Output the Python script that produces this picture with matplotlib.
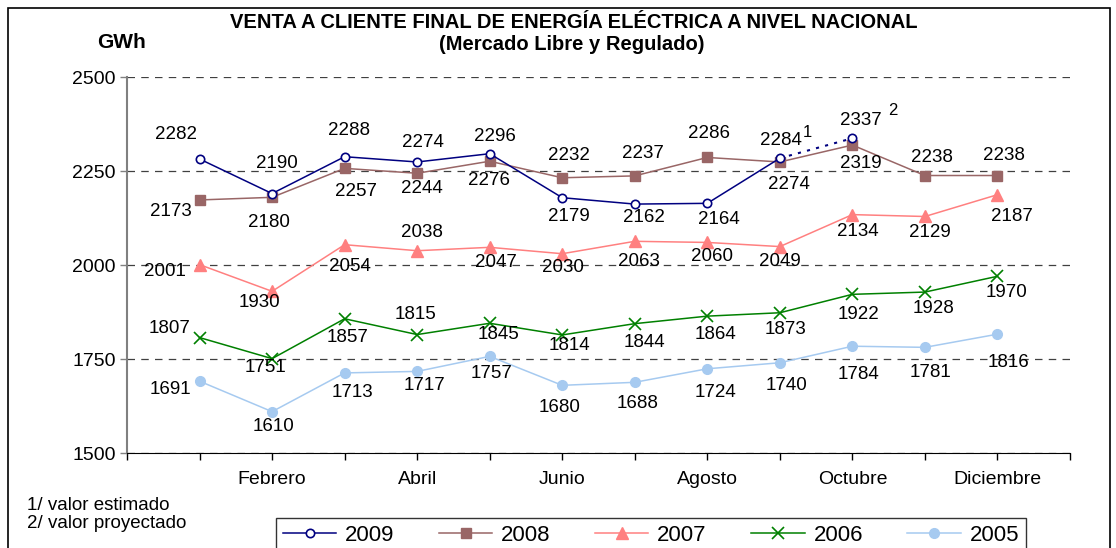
import matplotlib.pyplot as plt
from matplotlib.patches import Rectangle

plt.rcParams['font.family'] = ['Liberation Sans', 'DejaVu Sans']

meses = ['Enero', 'Febrero', 'Marzo', 'Abril', 'Mayo', 'Junio', 'Julio',
         'Agosto', 'Septiembre', 'Octubre', 'Noviembre', 'Diciembre']

v2009 = [2282, 2190, 2288, 2274, 2296, 2179, 2162, 2164, 2284, 2337]
v2008 = [2173, 2180, 2257, 2244, 2276, 2232, 2237, 2286, 2274, 2319, 2238, 2238]
v2007 = [2001, 1930, 2054, 2038, 2047, 2030, 2063, 2060, 2049, 2134, 2129, 2187]
v2006 = [1807, 1751, 1857, 1815, 1845, 1814, 1844, 1864, 1873, 1922, 1928, 1970]
v2005 = [1691, 1610, 1713, 1717, 1757, 1680, 1688, 1724, 1740, 1784, 1781, 1816]

# posiciones de las etiquetas (pixeles respecto al punto)
off2009 = [(-24, 24), (5, 30), (4, 26), (6, 19), (5, 17), (7, -19), (9, -13),
           (12, -16), (1, 18), (8, 18)]
off2008 = [(-29, -12), (-3, -25), (11, -23), (5, -15), (-1, -19), (7, 22),
           (8, 22), (2, 24), (9, -23), (8, -18), (7, 18), (6, 20)]
off2007 = [(-35, -7), (-13, -11), (5, -22), (5, 18), (6, -15), (1, -14),
           (4, -20), (5, -14), (0, -15), (5, -17), (5, -16), (14, -22)]
off2006 = [(-30, 9), (-7, -9), (3, -19), (-2, 20), (9, -11), (7, -11),
           (10, -19), (8, -18), (6, -17), (6, -20), (9, -16), (9, -16)]
off2005 = [(-29, -8), (1, -15), (8, -20), (7, -14), (2, -17), (-3, -22),
           (3, -21), (8, -24), (7, -23), (6, -28), (6, -25), (11, -28)]

W, H = 1116, 548
fig = plt.figure(figsize=(W / 100, H / 100), dpi=100)
ax = fig.add_axes([127 / W, 1 - 453 / H, (1070 - 127) / W, (453 - 77) / H])

x = list(range(1, 13))
c09, c08, c07, c06, c05 = '#000080', '#996666', '#FF8080', '#008000', '#A6CAF0'

ax.plot(x[:9], v2009[:9], color=c09, lw=1.1, zorder=6)
ax.plot(x[8:10], v2009[8:10], color=c09, lw=1.5, ls=(0, (1.5, 3)), zorder=6)
ax.plot(x[:10], v2009, ls='none', marker='o', ms=6, mfc='white', mec=c09,
        mew=1.2, zorder=7)
h09, = ax.plot([], [], color=c09, lw=1.1, marker='o', ms=6, mfc='white',
               mec=c09, mew=1.2, label='2009')
h08, = ax.plot(x, v2008, color=c08, lw=1.1, marker='s', ms=7, label='2008', zorder=5)
h07, = ax.plot(x, v2007, color=c07, lw=1.1, marker='^', ms=8, label='2007', zorder=4)
h06, = ax.plot(x, v2006, color=c06, lw=1.1, marker='x', ms=8, mew=1.2,
               label='2006', zorder=4)
h05, = ax.plot(x, v2005, color=c05, lw=1.1, marker='o', ms=7, label='2005', zorder=4)

for vals, offs in [(v2009, off2009), (v2008, off2008), (v2007, off2007),
                   (v2006, off2006), (v2005, off2005)]:
    for i, (v, (dx, dy)) in enumerate(zip(vals, offs)):
        ax.annotate(str(v), (x[i], v), xytext=(dx, dy), textcoords='offset pixels',
                    ha='center', va='center', fontsize=13.5, zorder=8)

ax.annotate('1', (x[8], v2009[8]), xytext=(28, 26), textcoords='offset pixels',
            ha='center', va='center', fontsize=12)
ax.annotate('2', (x[9], v2009[9]), xytext=(40, 28), textcoords='offset pixels',
            ha='center', va='center', fontsize=12)

ax.set_xlim(0, 13)
ax.set_ylim(1500, 2500)
ax.set_yticks([1500, 1750, 2000, 2250, 2500])
ax.set_xticks(range(0, 14))
ax.set_xticklabels([''] + [m if i % 2 == 1 else '' for i, m in enumerate(meses)] + [''])
ax.tick_params(axis='both', labelsize=14, length=5, width=1, direction='out')
ax.tick_params(axis='x', pad=8)
ax.tick_params(axis='y', pad=3, color='#808080')
ax.yaxis.grid(True, ls=(0, (6, 5)), color='#404040', lw=0.9)
ax.set_axisbelow(True)
for s in ['top', 'right']:
    ax.spines[s].set_visible(False)
ax.spines['left'].set_color('#808080')
ax.spines['left'].set_linewidth(1.5)
ax.spines['bottom'].set_color('black')

fig.text(574 / W, 1 - 22 / H,
         'VENTA A CLIENTE FINAL DE ENERGÍA ELÉCTRICA A NIVEL NACIONAL',
         ha='center', va='center', fontsize=14.5, fontweight='bold')
fig.text(572 / W, 1 - 45 / H, '(Mercado Libre y Regulado)',
         ha='center', va='center', fontsize=14.5, fontweight='bold')
fig.text(122 / W, 1 - 43 / H, 'GWh', ha='center', va='center',
         fontsize=15, fontweight='bold')
fig.text(27 / W, 1 - 505 / H, '1/ valor estimado', ha='left', va='center', fontsize=13.5)
fig.text(27 / W, 1 - 524 / H, '2/ valor proyectado', ha='left', va='center', fontsize=13.5)

leg = fig.legend(handles=[h09, h08, h07, h06, h05], loc='upper center',
                 bbox_to_anchor=(651 / W, 1 - 518 / H), ncol=5, fontsize=16,
                 frameon=True, fancybox=False, edgecolor='black',
                 handlelength=2.4, columnspacing=2.0, handletextpad=0.4,
                 borderpad=0.3, borderaxespad=0)
leg.get_frame().set_linewidth(1.0)

fig.patches.append(Rectangle((8 / W, -0.1), (1110 - 8) / W, 1.1 - 8 / H,
                             transform=fig.transFigure, fill=False,
                             edgecolor='black', lw=1.2))

fig.savefig('out.png', dpi=100)
